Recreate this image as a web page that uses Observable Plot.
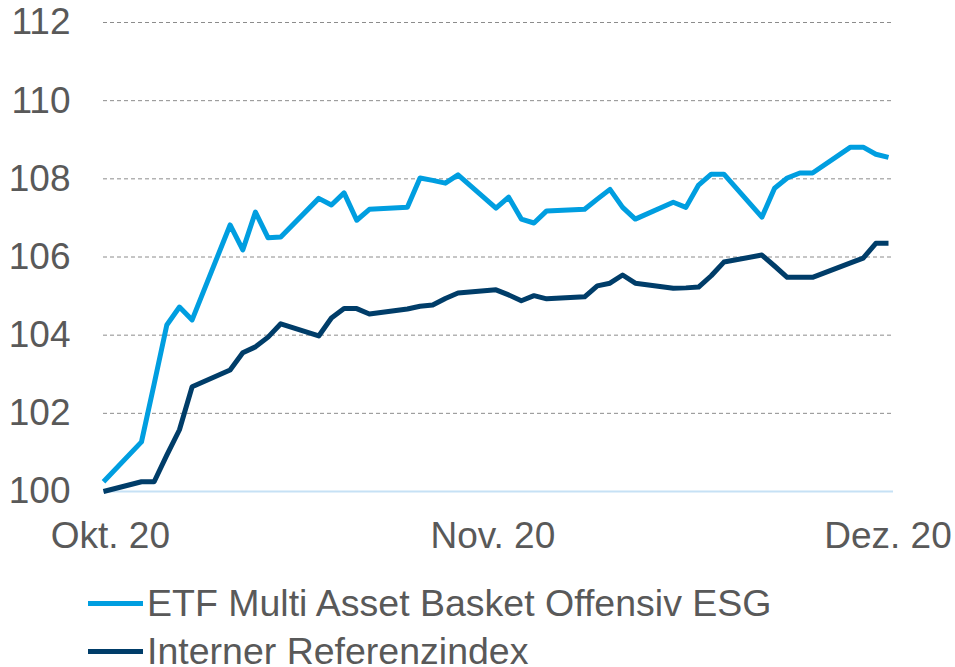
<!DOCTYPE html>
<html>
<head>
<meta charset="utf-8">
<script src="https://cdn.jsdelivr.net/npm/d3@7"></script>
<script src="https://cdn.jsdelivr.net/npm/@observablehq/plot@0.6"></script>
<style>
  html, body { margin: 0; padding: 0; background: #fff; }
  #chart { width: 955px; }
  .legend { font-family: "Liberation Sans", Arial, sans-serif; font-size: 37.5px; color: #595959; margin-top: 19px; }
  .legend .row { display: flex; align-items: center; height: 48px; padding-left: 88px; white-space: nowrap; }
  .legend .sw { display: inline-block; width: 55px; height: 5px; margin-right: 4px; }
</style>
</head>
<body>
<div id="chart"></div>
<script>
const dates = [
  "2020-10-02","2020-10-05","2020-10-06","2020-10-07","2020-10-08","2020-10-09",
  "2020-10-12","2020-10-13","2020-10-14","2020-10-15","2020-10-16",
  "2020-10-19","2020-10-20","2020-10-21","2020-10-22","2020-10-23",
  "2020-10-26","2020-10-27","2020-10-28","2020-10-29","2020-10-30",
  "2020-11-02","2020-11-03","2020-11-04","2020-11-05","2020-11-06",
  "2020-11-09","2020-11-10","2020-11-11","2020-11-12","2020-11-13",
  "2020-11-16","2020-11-17","2020-11-18","2020-11-19","2020-11-20",
  "2020-11-23","2020-11-24","2020-11-25","2020-11-26","2020-11-27",
  "2020-11-30","2020-12-01","2020-12-02","2020-12-03"
];
const etfValues = [
  100.25, 101.27, 102.75, 104.26, 104.72, 104.39,
  106.82, 106.18, 107.15, 106.49, 106.51,
  107.50, 107.33, 107.64, 106.94, 107.22,
  107.27, 108.02, 107.96, 107.89, 108.10,
  107.25, 107.53, 106.97, 106.87, 107.18,
  107.22, 107.48, 107.73, 107.27, 106.97,
  107.40, 107.27, 107.84, 108.12, 108.12,
  107.02, 107.76, 108.02, 108.15, 108.15,
  108.81, 108.81, 108.63, 108.55
];
const refValues = [
  100.00, 100.25, 100.25, 100.93, 101.58, 102.68,
  103.11, 103.55, 103.70, 103.95, 104.29,
  103.98, 104.44, 104.68, 104.68, 104.54,
  104.67, 104.74, 104.77, 104.94, 105.08,
  105.16, 105.03, 104.88, 105.01, 104.93,
  104.98, 105.26, 105.33, 105.54, 105.33,
  105.20, 105.21, 105.23, 105.52, 105.87,
  106.05, 105.77, 105.48, 105.48, 105.48,
  105.85, 105.97, 106.35, 106.35
];
const seriesNames = ["ETF Multi Asset Basket Offensiv ESG", "Interner Referenzindex"];
const seriesColors = ["#009EE0", "#003D69"];
const yTicks = [100, 102, 104, 106, 108, 110, 112];
const xTickDates = ["2020-10-02T13:00", "2020-11-01T18:00", "2020-12-02T23:00"];
const xTickLabels = ["Okt. 20", "Nov. 20", "Dez. 20"];

const parse = d3.utcParse("%Y-%m-%d");
const parseT = d3.utcParse("%Y-%m-%dT%H:%M");
const data = [];
dates.forEach((d, i) => {
  data.push({date: parse(d), value: etfValues[i], series: seriesNames[0]});
  data.push({date: parse(d), value: refValues[i], series: seriesNames[1]});
});
const tickDates = xTickDates.map(parseT);
const labelMap = new Map(tickDates.map((d, i) => [+d, xTickLabels[i]]));

const chart = Plot.plot({
  width: 955,
  height: 560,
  marginLeft: 103,
  marginRight: 62,
  marginTop: 22,
  marginBottom: 69,
  style: {fontFamily: "'Liberation Sans', Arial, sans-serif", fontSize: "37px", color: "#595959", background: "#fff"},
  x: {type: "utc", domain: [parse(dates[0]), parse(dates[dates.length - 1])], insetRight: 5, insetLeft: 0},
  y: {domain: [100, 112]},
  color: {domain: seriesNames, range: seriesColors},
  marks: [
    Plot.ruleY(yTicks.filter(t => t > 100), {stroke: "#8C8C8C", strokeWidth: 1, strokeDasharray: "4,3"}),
    Plot.ruleY([100], {stroke: "#C6E1F5", strokeWidth: 2}),
    Plot.axisY({ticks: yTicks, tickSize: 0, tickPadding: 33, label: null, fill: "#595959"}),
    Plot.axisX({ticks: tickDates, tickSize: 0, tickPadding: 30, label: null, fill: "#595959",
      tickFormat: d => labelMap.get(+d)}),
    Plot.line(data, {x: "date", y: "value", z: "series", stroke: "series", strokeWidth: 5,
      strokeLinejoin: "round", strokeLinecap: "butt"})
  ]
});
document.getElementById("chart").appendChild(chart);

const legend = document.createElement("div");
legend.className = "legend";
seriesNames.forEach((name, i) => {
  const row = document.createElement("div");
  row.className = "row";
  const sw = document.createElement("span");
  sw.className = "sw";
  sw.style.background = seriesColors[i];
  row.appendChild(sw);
  row.appendChild(document.createTextNode(name));
  legend.appendChild(row);
});
document.getElementById("chart").appendChild(legend);
</script>
</body>
</html>
